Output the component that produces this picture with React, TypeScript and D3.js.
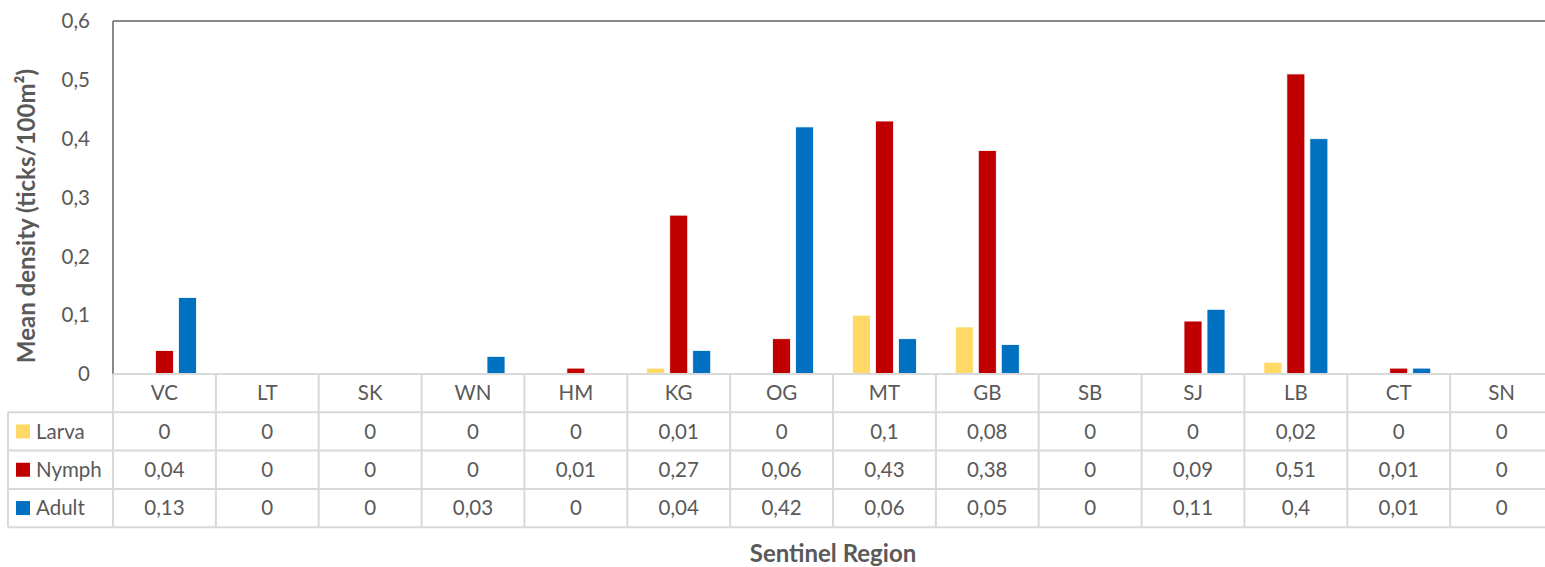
import React from "react";
import * as d3 from "d3";

// Sentinel regions (columns of the data table)
const regions = ["VC", "LT", "SK", "WN", "HM", "KG", "OG", "MT", "GB", "SB", "SJ", "LB", "CT", "SN"];
const stages = ["Larva", "Nymph", "Adult"];
const larva = [0, 0, 0, 0, 0, 0.01, 0, 0.1, 0.08, 0, 0, 0.02, 0, 0];
const nymph = [0.04, 0, 0, 0, 0.01, 0.27, 0.06, 0.43, 0.38, 0, 0.09, 0.51, 0.01, 0];
const adult = [0.13, 0, 0, 0.03, 0, 0.04, 0.42, 0.06, 0.05, 0, 0.11, 0.4, 0.01, 0];
const yTicks = [0, 0.1, 0.2, 0.3, 0.4, 0.5, 0.6];
const stageColors = ["#FFD966", "#C00000", "#0070C0"];

const W = 1545;
const H = 567;
const plotLeft = 113;
const plotRight = 1553;
const plotTop = 21;
const plotBottom = 374;
const rowH = 38.3;
const legendLeft = 8;

const FONT = "Lato, 'Open Sans', 'Liberation Sans', sans-serif";
const TEXT = "#595959";
const GRID = "#D9D9D9";
const LABEL_SIZE = 20.5;
const TITLE_SIZE = 24;

const fmt = (v: number) => String(v).replace(".", ",");

export default function App() {
  const series = [larva, nymph, adult];
  const x = d3.scaleBand<string>().domain(regions).range([plotLeft, plotRight]).padding(0);
  const xs = d3.scaleBand<string>().domain(stages).range([-32, 32]).paddingInner(5 / 23).paddingOuter(0);
  const y = d3.scaleLinear().domain([0, 0.6]).range([plotBottom, plotTop]);

  const tableTop = plotBottom;
  const rowsTop = tableTop + rowH; // first data row
  const tableBottom = rowsTop + rowH * 3;

  return (
    <svg width={W} height={H} style={{ position: "absolute", left: 0, top: 0, background: "#fff" }} fontFamily={FONT}>
      <rect x={0} y={0} width={W} height={H} fill="#fff" />

      {/* plot frame */}
      <line x1={plotLeft} x2={W} y1={plotTop} y2={plotTop} stroke="#898989" strokeWidth={2} />
      <line x1={plotLeft} x2={plotLeft} y1={plotTop} y2={plotBottom} stroke="#898989" strokeWidth={2} />

      {/* y tick labels */}
      {yTicks.map((t) => (
        <text key={t} x={90} y={y(t)} dy="0.35em" textAnchor="end" fontSize={LABEL_SIZE} fill={TEXT}>
          {fmt(t)}
        </text>
      ))}

      {/* y axis title */}
      <text
        transform={`translate(35,${216}) rotate(-90)`}
        textAnchor="middle"
        fontSize={TITLE_SIZE}
        fontWeight="bold"
        fill={TEXT}
      >
        Mean density (ticks/100m²)
      </text>

      {/* bars */}
      {regions.map((r, i) => (
        <g key={r} transform={`translate(${x(r)! + x.bandwidth() / 2},0)`}>
          {series.map((s, j) =>
            s[i] > 0 ? (
              <rect
                key={j}
                x={xs(stages[j])!}
                width={xs.bandwidth()}
                y={y(s[i])}
                height={plotBottom - y(s[i])}
                fill={stageColors[j]}
                stroke="#fff"
                strokeWidth={0.8}
              />
            ) : null
          )}
        </g>
      ))}

      {/* data table grid */}
      <g stroke={GRID} strokeWidth={2} fill="none">
        <line x1={plotLeft} x2={W} y1={tableTop} y2={tableTop} />
        {[0, 1, 2, 3].map((k) => (
          <line key={k} x1={legendLeft} x2={W} y1={rowsTop + k * rowH} y2={rowsTop + k * rowH} />
        ))}
        <line x1={legendLeft} x2={legendLeft} y1={rowsTop} y2={tableBottom} />
        {regions.map((r) => (
          <line key={r} x1={x(r)!} x2={x(r)!} y1={tableTop} y2={tableBottom} />
        ))}
        <line x1={plotRight} x2={plotRight} y1={tableTop} y2={tableBottom} />
      </g>

      {/* header row: region names */}
      {regions.map((r) => (
        <text key={r} x={x(r)! + x.bandwidth() / 2} y={tableTop + rowH / 2} dy="0.35em" textAnchor="middle" fontSize={LABEL_SIZE} fill={TEXT}>
          {r}
        </text>
      ))}

      {/* legend keys and values */}
      {stages.map((st, j) => {
        const cy = rowsTop + rowH * j + rowH / 2;
        return (
          <g key={st}>
            <rect x={16} y={cy - 7} width={14} height={14} fill={stageColors[j]} />
            <text x={36} y={cy} dy="0.35em" fontSize={LABEL_SIZE} fill={TEXT}>
              {st}
            </text>
            {regions.map((r, i) => (
              <text key={r} x={x(r)! + x.bandwidth() / 2} y={cy} dy="0.35em" textAnchor="middle" fontSize={LABEL_SIZE} fill={TEXT}>
                {fmt(series[j][i])}
              </text>
            ))}
          </g>
        );
      })}

      {/* x axis title */}
      <text x={833} y={562} textAnchor="middle" fontSize={TITLE_SIZE} fontWeight="bold" fill={TEXT}>
        Sentinel Region
      </text>
    </svg>
  );
}
